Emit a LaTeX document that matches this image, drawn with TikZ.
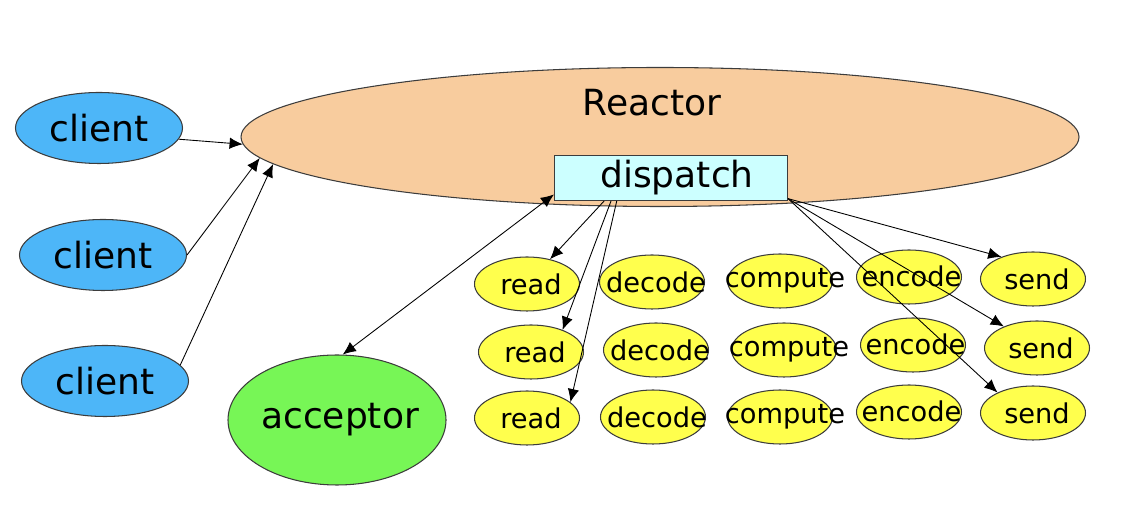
\documentclass[tikz,border=0pt]{standalone}
\usepackage{fontspec}
\setmainfont{DejaVu Sans}
\usepackage{tikz}
\usetikzlibrary{shapes.geometric, arrows.meta}
\definecolor{myline}{RGB}{60,60,60}
\definecolor{myorange}{RGB}{248,204,158}
\definecolor{mycyan}{RGB}{204,255,255}
\definecolor{myblue}{RGB}{77,182,248}
\definecolor{mygreen}{RGB}{119,246,86}
\definecolor{myyellow}{RGB}{255,255,77}
\tikzset{
  bigfont/.style={font=\fontsize{20.5}{24}\selectfont},
  smallfont/.style={font=\fontsize{15.5}{18}\selectfont},
  arrow/.style={-{Latex[length=7.5pt,width=6.5pt]}, line width=0.5pt, color=black},
  dblarrow/.style={{Latex[length=7.5pt,width=6.5pt]}-{Latex[length=7.5pt,width=6.5pt]}, line width=0.5pt, color=black}
}

\begin{document}
\begin{tikzpicture}[
  reactor/.style={ellipse, draw=myline, fill=myorange, minimum width=16.76cm, minimum height=2.78cm, line width=0.6pt},
  disp/.style={rectangle, draw=myline, fill=mycyan, minimum width=4.66cm, minimum height=0.9cm, inner sep=0pt, line width=0.6pt, bigfont},
  client/.style={ellipse, draw=myline, fill=myblue, minimum width=3.34cm, minimum height=1.42cm, inner sep=0pt, line width=0.6pt, bigfont},
  accept/.style={ellipse, draw=myline, fill=mygreen, minimum width=4.36cm, minimum height=2.6cm, inner sep=0pt, line width=0.6pt, bigfont},
  task/.style={ellipse, draw=myline, fill=myyellow, minimum width=2.1cm, minimum height=1.08cm, inner sep=0pt, line width=0.6pt, smallfont}]

  \useasboundingbox (0,0) rectangle (22.52,10.6);

  \node[reactor] (rx) at (13.2,7.86) {};
  \node[bigfont] (rxl) at (13.04,8.54) {Reactor};
  \node[disp] (dp) at (13.42,7.04) {\hspace{0.24cm}dispatch};

  \node[client] (cl1) at (1.98,8.04) {client};
  \node[client] (cl2) at (2.06,5.5) {client};
  \node[client] (cl3) at (2.1,2.98) {client};
  \node[accept] (ac) at (6.74,2.2) {\makebox[0pt]{\hspace{0.12cm}acceptor}};

  \node[task] (rd1) at (10.54,4.92) {\makebox[0pt]{\hspace{0.16cm}read}};
  \node[task] (dc1) at (13.04,4.96) {\makebox[0pt]{\hspace{0.16cm}decode}};
  \node[task] (cp1) at (15.6,4.98) {\makebox[0pt]{\hspace{0.2cm}compute}};
  \node[task] (ec1) at (18.18,5.06) {\makebox[0pt]{\raisebox{0.04cm}{\hspace{0.1cm}encode}}};
  \node[task] (sd1) at (20.66,5.02) {\makebox[0pt]{\hspace{0.16cm}send}};

  \node[task] (rd2) at (10.62,3.56) {\makebox[0pt]{\hspace{0.16cm}read}};
  \node[task] (dc2) at (13.12,3.6) {\makebox[0pt]{\hspace{0.16cm}decode}};
  \node[task] (cp2) at (15.68,3.6) {\makebox[0pt]{\hspace{0.2cm}compute}};
  \node[task] (ec2) at (18.26,3.7) {\makebox[0pt]{\raisebox{0.04cm}{\hspace{0.1cm}encode}}};
  \node[task] (sd2) at (20.74,3.64) {\makebox[0pt]{\hspace{0.16cm}send}};

  \node[task] (rd3) at (10.54,2.24) {\makebox[0pt]{\hspace{0.16cm}read}};
  \node[task] (dc3) at (13.06,2.26) {\makebox[0pt]{\hspace{0.16cm}decode}};
  \node[task] (cp3) at (15.6,2.26) {\makebox[0pt]{\hspace{0.2cm}compute}};
  \node[task] (ec3) at (18.18,2.36) {\makebox[0pt]{\raisebox{0.04cm}{\hspace{0.1cm}encode}}};
  \node[task] (sd3) at (20.66,2.34) {\makebox[0pt]{\hspace{0.16cm}send}};

  \draw[arrow] (cl1.-8) -- (rx.181);
  \draw[arrow] (cl2.east) -- (rx.183);
  \draw[arrow] (cl3.12) -- (rx.184);

  \draw[dblarrow] (ac.85) -- (dp.188);

  \draw[arrow] (dp.199) -- (rd1);
  \draw[arrow] (dp.201) -- (rd2.35);
  \draw[arrow] (dp.203) -- (rd3.20);

  \draw[arrow] (dp.-10) -- (sd1.145);
  \draw[arrow] (dp.-10) -- (sd2.147);
  \draw[arrow] (dp.-10) -- (sd3.150);

\end{tikzpicture}
\end{document}
